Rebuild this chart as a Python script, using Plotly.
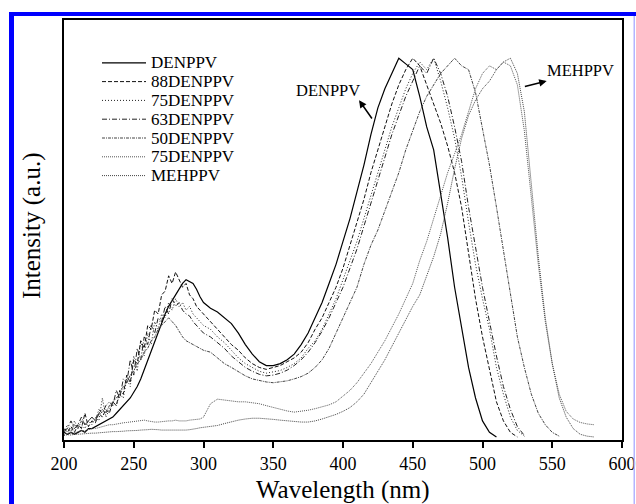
import plotly.graph_objects as go

# ---------------- data ----------------
WL_UV = [200 + 2.5 * i for i in range(40)]    # 200 ... 297.5 nm
WL_VIS = [300 + 5 * i for i in range(57)]     # 300 ... 580 nm

NAMES = ["DENPPV", "88DENPPV", "75DENPPV", "63DENPPV", "50DENPPV", "75DENPPV", "MEHPPV"]

DENPPV_UV = [0.02, 0.015, 0.02, 0.015, 0.02, 0.025, 0.02, 0.03, 0.03, 0.035,
             0.04, 0.045, 0.05, 0.055, 0.06, 0.07, 0.08, 0.09, 0.10, 0.11,
             0.125, 0.14, 0.16, 0.185, 0.21, 0.235, 0.26, 0.285, 0.31, 0.33,
             0.35, 0.365, 0.38, 0.395, 0.41, 0.42, 0.415, 0.41, 0.395, 0.375]
DENPPV_VIS = [0.36, 0.345, 0.335, 0.32, 0.305, 0.28, 0.25, 0.225, 0.205, 0.195,
              0.195, 0.20, 0.21, 0.225, 0.25, 0.28, 0.32, 0.36, 0.41, 0.46,
              0.52, 0.58, 0.65, 0.72, 0.80, 0.87, 0.92, 0.96, 1.0, 0.985,
              0.97, 0.90, 0.82, 0.76, 0.65, 0.53, 0.40, 0.29, 0.19, 0.11,
              0.05, 0.02, 0.008]

D88_UV = [0.03, 0.02, 0.035, 0.02, 0.04, 0.03, 0.07, 0.035, 0.05, 0.045,
          0.07, 0.06, 0.08, 0.07, 0.10, 0.09, 0.13, 0.12, 0.17, 0.15,
          0.21, 0.20, 0.26, 0.24, 0.30, 0.29, 0.34, 0.33, 0.38, 0.39,
          0.43, 0.41, 0.44, 0.42, 0.40, 0.41, 0.38, 0.37, 0.35, 0.34]
D88_VIS = [0.33, 0.31, 0.29, 0.27, 0.25, 0.235, 0.215, 0.20, 0.19, 0.185,
           0.19, 0.195, 0.205, 0.215, 0.23, 0.255, 0.29, 0.32, 0.36, 0.40,
           0.45, 0.51, 0.57, 0.63, 0.70, 0.76, 0.82, 0.88, 0.93, 0.97,
           1.0, 0.98, 0.93, 0.88, 0.83, 0.77, 0.70, 0.61, 0.49, 0.37,
           0.27, 0.18, 0.10, 0.05, 0.02, 0.008]

D75_UV = [0.02, 0.04, 0.025, 0.05, 0.03, 0.04, 0.03, 0.05, 0.04, 0.06,
          0.05, 0.11, 0.06, 0.08, 0.10, 0.09, 0.12, 0.11, 0.16, 0.14,
          0.22, 0.18, 0.26, 0.22, 0.28, 0.25, 0.31, 0.29, 0.33, 0.32,
          0.36, 0.34, 0.37, 0.35, 0.36, 0.34, 0.35, 0.33, 0.32, 0.31]
D75_VIS = [0.30, 0.29, 0.27, 0.255, 0.235, 0.215, 0.20, 0.19, 0.18, 0.175,
           0.178, 0.182, 0.19, 0.20, 0.215, 0.24, 0.26, 0.29, 0.33, 0.37,
           0.42, 0.47, 0.52, 0.58, 0.64, 0.70, 0.76, 0.82, 0.87, 0.92,
           0.96, 0.99, 0.97, 1.0, 0.94, 0.87, 0.79, 0.69, 0.57, 0.46,
           0.37, 0.29, 0.19, 0.12, 0.06, 0.025, 0.01]

D63_UV = [0.025, 0.03, 0.05, 0.03, 0.04, 0.06, 0.04, 0.05, 0.06, 0.05,
          0.08, 0.07, 0.09, 0.10, 0.09, 0.13, 0.11, 0.16, 0.15, 0.21,
          0.17, 0.24, 0.21, 0.27, 0.25, 0.30, 0.28, 0.32, 0.31, 0.35,
          0.33, 0.37, 0.35, 0.36, 0.34, 0.33, 0.325, 0.31, 0.30, 0.29]
D63_VIS = [0.28, 0.27, 0.255, 0.24, 0.22, 0.205, 0.19, 0.18, 0.172, 0.168,
           0.17, 0.175, 0.183, 0.195, 0.21, 0.23, 0.255, 0.285, 0.32, 0.36,
           0.40, 0.45, 0.50, 0.56, 0.62, 0.68, 0.74, 0.80, 0.85, 0.90,
           0.94, 0.98, 0.96, 1.0, 0.96, 0.90, 0.82, 0.73, 0.61, 0.50,
           0.40, 0.31, 0.22, 0.14, 0.08, 0.035, 0.012]

D50_UV = [0.02, 0.03, 0.02, 0.04, 0.03, 0.05, 0.04, 0.05, 0.06, 0.05,
          0.07, 0.08, 0.07, 0.09, 0.10, 0.11, 0.12, 0.14, 0.15, 0.17,
          0.18, 0.20, 0.21, 0.23, 0.24, 0.26, 0.27, 0.29, 0.30, 0.31,
          0.32, 0.31, 0.30, 0.285, 0.27, 0.26, 0.255, 0.25, 0.245, 0.24]
D50_VIS = [0.235, 0.23, 0.215, 0.20, 0.19, 0.178, 0.168, 0.16, 0.155, 0.152,
           0.15, 0.152, 0.155, 0.16, 0.166, 0.175, 0.19, 0.21, 0.24, 0.28,
           0.32, 0.36, 0.40, 0.46, 0.51, 0.55, 0.60, 0.65, 0.70, 0.76,
           0.81, 0.86, 0.90, 0.93, 0.96, 0.98, 1.0, 0.98, 0.97, 0.91,
           0.82, 0.72, 0.61, 0.50, 0.38, 0.27, 0.19, 0.12, 0.07, 0.04,
           0.02, 0.01]

D25_UV = [0.015, 0.018, 0.02, 0.018, 0.022, 0.025, 0.024, 0.028, 0.03, 0.03,
          0.033, 0.035, 0.038, 0.04, 0.04, 0.042, 0.043, 0.045, 0.046, 0.047,
          0.048, 0.05, 0.05, 0.052, 0.05, 0.048, 0.047, 0.047, 0.048, 0.05,
          0.05, 0.05, 0.052, 0.05, 0.05, 0.05, 0.052, 0.053, 0.054, 0.055]
D25_VIS = [0.06, 0.095, 0.107, 0.105, 0.103, 0.10, 0.10, 0.098, 0.095, 0.09,
           0.085, 0.08, 0.076, 0.073, 0.075, 0.078, 0.082, 0.086, 0.092, 0.10,
           0.115, 0.13, 0.15, 0.175, 0.20, 0.23, 0.26, 0.295, 0.33, 0.37,
           0.41, 0.47, 0.52, 0.58, 0.64, 0.70, 0.75, 0.80, 0.86, 0.92,
           0.96, 0.98, 0.97, 0.99, 0.98, 0.93, 0.81, 0.63, 0.46, 0.31,
           0.20, 0.12, 0.075, 0.055, 0.046, 0.042, 0.04]

MEH_UV = [0.012, 0.014, 0.013, 0.015, 0.015, 0.016, 0.016, 0.017, 0.018, 0.018,
          0.019, 0.02, 0.02, 0.021, 0.022, 0.022, 0.022, 0.023, 0.024, 0.024,
          0.025, 0.025, 0.026, 0.026, 0.027, 0.028, 0.028, 0.027, 0.026, 0.026,
          0.025, 0.025, 0.025, 0.025, 0.026, 0.026, 0.027, 0.028, 0.03, 0.032]
MEH_VIS = [0.033, 0.036, 0.038, 0.043, 0.048, 0.052, 0.055, 0.057, 0.057, 0.056,
           0.054, 0.052, 0.05, 0.048, 0.047, 0.047, 0.05, 0.055, 0.06, 0.067,
           0.075, 0.085, 0.10, 0.12, 0.15, 0.18, 0.21, 0.245, 0.28, 0.315,
           0.35, 0.38, 0.43, 0.48, 0.54, 0.62, 0.71, 0.79, 0.85, 0.89,
           0.92, 0.94, 0.97, 0.99, 1.0, 0.96, 0.86, 0.66, 0.48, 0.32,
           0.20, 0.11, 0.06, 0.03, 0.015, 0.01, 0.008]

SERIES_UV = [DENPPV_UV, D88_UV, D75_UV, D63_UV, D50_UV, D25_UV, MEH_UV]
SERIES_VIS = [DENPPV_VIS, D88_VIS, D75_VIS, D63_VIS, D50_VIS, D25_VIS, MEH_VIS]

X_TICKS = [200, 250, 300, 350, 400, 450, 500, 550, 600]

# ---------------- styles ----------------
DASHES = ["solid", "4px,2px", "1px,2px", "5px,2px,1px,2px", "3px,1px,1px,1px", "1px,1px", "1px,1px"]
COLORS = ["#000000", "#111111", "#222222", "#222222", "#444444", "#555555", "#444444"]
WIDTHS = [1.2, 1.0, 1.0, 1.0, 1.0, 1.0, 1.0]
FONT = "Liberation Serif, Times New Roman, serif"

# plot-area geometry in pixels
W, H = 636, 504
L, R, T, B = 64, 14, 20, 64
PW, PH = W - L - R, H - T - B


def px(xp):
    return (xp - L) / PW


def py(yp):
    return (H - B - yp) / PH


fig = go.Figure()
for name, uv, vis, dash, col, w in zip(NAMES, SERIES_UV, SERIES_VIS, DASHES, COLORS, WIDTHS):
    xs = WL_UV + WL_VIS[:len(vis)]
    ys = uv + vis
    fig.add_trace(go.Scatter(x=xs, y=ys, mode="lines", name=name, showlegend=False,
                             line=dict(color=col, width=w, dash=dash)))

shapes = []
annotations = []
# manual legend
leg_y0, leg_dy = 62.8, 18.8
for i, (name, dash, col, w) in enumerate(zip(NAMES, DASHES, COLORS, WIDTHS)):
    yy = leg_y0 + i * leg_dy
    shapes.append(dict(type="line", xref="paper", yref="paper",
                       x0=px(102), x1=px(146), y0=py(yy), y1=py(yy),
                       line=dict(color=col, width=w, dash=dash)))
    annotations.append(dict(xref="paper", yref="paper", x=px(149), y=py(yy),
                            text=name, showarrow=False, xanchor="left", yanchor="middle",
                            font=dict(family=FONT, size=17, color="black")))

# labels with arrows
annotations.append(dict(xref="paper", yref="paper", x=px(328), y=py(91), text="DENPPV",
                        showarrow=False, xanchor="center", yanchor="middle",
                        font=dict(family=FONT, size=16.5, color="black")))
annotations.append(dict(x=411.5, y=0.89, ax=421.5, ay=0.838, xref="x", yref="y",
                        axref="x", ayref="y", text="", showarrow=True,
                        arrowhead=2, arrowsize=1, arrowwidth=1.5, arrowcolor="black"))
annotations.append(dict(xref="paper", yref="paper", x=px(545), y=py(70), text="MEHPPV",
                        showarrow=False, xanchor="left", yanchor="middle",
                        font=dict(family=FONT, size=16.5, color="black")))
annotations.append(dict(x=546, y=0.94, ax=529.3, ay=0.925, xref="x", yref="y",
                        axref="x", ayref="y", text="", showarrow=True,
                        arrowhead=2, arrowsize=1, arrowwidth=1.5, arrowcolor="black"))

# axis titles
annotations.append(dict(xref="paper", yref="paper", x=px(343), y=py(490), text="Wavelength (nm)",
                        showarrow=False, xanchor="center", yanchor="middle",
                        font=dict(family=FONT, size=25, color="black")))
annotations.append(dict(xref="paper", yref="paper", x=px(32), y=py(226), text="Intensity (a.u.)",
                        showarrow=False, xanchor="center", yanchor="middle", textangle=-90,
                        font=dict(family=FONT, size=25, color="black")))

# blue frame of the reference image (kept inside the page)
BLUE = "#0000ff"
shapes.append(dict(type="rect", xref="paper", yref="paper", layer="above",
                   x0=px(9), x1=px(14), y0=py(H), y1=py(12),
                   fillcolor=BLUE, line=dict(width=0)))
shapes.append(dict(type="rect", xref="paper", yref="paper", layer="above",
                   x0=px(9), x1=px(W), y0=py(16), y1=py(12),
                   fillcolor=BLUE, line=dict(width=0)))
shapes.append(dict(type="rect", xref="paper", yref="paper", layer="above",
                   x0=px(633.5), x1=px(635), y0=py(H), y1=py(16),
                   fillcolor="#b4b4ff", line=dict(width=0)))

fig.update_layout(
    width=W, height=H,
    margin=dict(l=L, r=R, t=T, b=B, pad=0, autoexpand=False),
    paper_bgcolor="white", plot_bgcolor="white",
    showlegend=False,
    shapes=shapes, annotations=annotations,
    font=dict(family=FONT, color="black"),
)
fig.update_xaxes(range=[200, 600], tickvals=X_TICKS, ticktext=[str(t) for t in X_TICKS],
                 ticks="outside", ticklen=6, tickwidth=1.5, tickcolor="black",
                 showline=True, linewidth=2, linecolor="black", mirror=True,
                 showgrid=False, zeroline=False, automargin=False,
                 tickfont=dict(family=FONT, size=18, color="black"))
fig.update_yaxes(range=[0, 1.1], showticklabels=False, ticks="",
                 showline=True, linewidth=2, linecolor="black", mirror=True,
                 showgrid=False, zeroline=False, automargin=False)

fig.write_html("out.html")
